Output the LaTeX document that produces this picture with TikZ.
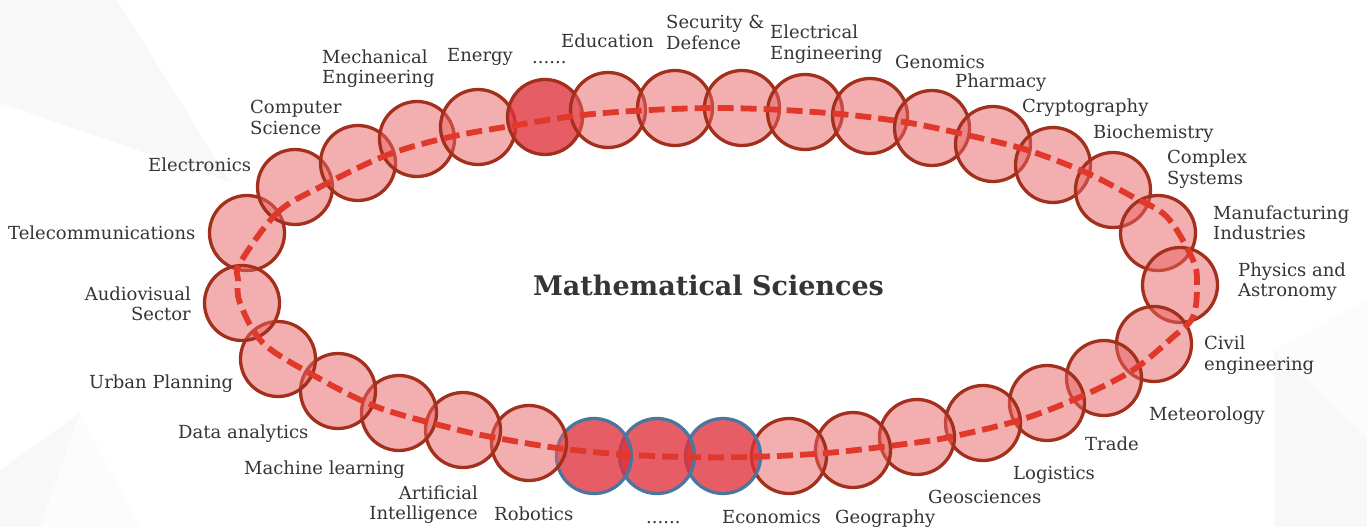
\documentclass[tikz,border=0pt]{standalone}
\usepackage{fontspec}
\setmainfont{DejaVu Serif}
\definecolor{edge}{HTML}{A3301C}
\definecolor{pinkfill}{HTML}{E96161}
\definecolor{darkfill}{HTML}{E0303A}
\definecolor{blueedge}{HTML}{4A76A0}
\definecolor{dashred}{HTML}{E0382A}
\definecolor{txt}{HTML}{353535}
\definecolor{bgshade}{HTML}{F8F8F8}
\definecolor{bgpale}{HTML}{FCFCFC}
\tikzset{
 topic/.style={circle, minimum size=75pt, inner sep=0pt, line width=3.3pt, draw=edge, fill=pinkfill, fill opacity=0.5},
 hot/.style={topic, fill=darkfill, fill opacity=0.78},
 cold/.style={hot, draw=blueedge},
 lbl/.style={text=txt, font=\fontsize{18}{20.5}\selectfont, inner sep=0pt, align=left},
 one/.style={lbl, text height=13pt, text depth=4pt, yshift=-1.5pt},
 lblr/.style={lbl, align=right},
 ring/.style={dashred, line width=5.8pt, dash pattern=on 16pt off 7pt}
}
\begin{document}
\begin{tikzpicture}[x=1pt,y=-1pt]
\useasboundingbox (0,0) rectangle (1367,527);
\fill[white] (0,0) rectangle (1367,527);
% faint background shapes
\fill[bgshade] (0,0) -- (117,0) -- (230,182) -- (0,103) -- cycle;
\fill[bgshade] (80,413) -- (40,527) -- (0,527) -- (0,470) -- cycle;
\fill[bgpale] (80,413) -- (140,527) -- (40,527) -- cycle;
\fill[bgshade] (1274,350) -- (1367,437) -- (1367,527) -- (1274,527) -- cycle;
\fill[bgpale] (1274,350) -- (1367,300) -- (1367,437) -- cycle;
% circles
\node[topic] (c1) at (247,233) {};
\node[topic] (c2) at (295,187) {};
\node[topic] (c3) at (358,163) {};
\node[topic] (c4) at (417,139) {};
\node[topic] (c5) at (478,127) {};
\node[hot]   (c6) at (545,117) {};
\node[topic] (c7) at (608,110) {};
\node[topic] (c8) at (675,108) {};
\node[topic] (c9) at (742,108) {};
\node[topic] (c10) at (805,112) {};
\node[topic] (c11) at (870,116) {};
\node[topic] (c12) at (932,128) {};
\node[topic] (c13) at (993,144) {};
\node[topic] (c14) at (1053,165) {};
\node[topic] (c15) at (1113,190) {};
\node[topic] (c16) at (1158,233) {};
\node[topic] (c17) at (1180,285) {};
\node[topic] (c18) at (1154,344) {};
\node[topic] (c19) at (1104,378) {};
\node[topic] (c20) at (1047,403) {};
\node[topic] (c21) at (983,423) {};
\node[topic] (c22) at (917,437) {};
\node[topic] (c23) at (853,450) {};
\node[topic] (c24) at (789,456) {};
\node[cold]  (c25) at (723,456) {};
\node[cold]  (c26) at (657,456) {};
\node[cold]  (c27) at (594,456) {};
\node[topic] (c28) at (529,443) {};
\node[topic] (c29) at (463,430) {};
\node[topic] (c30) at (399,413) {};
\node[topic] (c31) at (338,391) {};
\node[topic] (c32) at (278,359) {};
\node[topic] (c33) at (242,303) {};
% dashed ring
\draw[ring] plot[smooth cycle, tension=0.55] coordinates {
 (240,263) (277,213) (320,187) (387,155) (450,137) (517,125) (583,115) (650,110)
 (717,108) (783,110) (850,115) (910,123) (967,135) (1027,150) (1087,173) (1133,197)
 (1167,217) (1193,260) (1197,285) (1193,317) (1173,337) (1133,370) (1080,397) (1020,420)
 (950,437) (905,444) (827,453) (750,457) (683,457) (617,454) (557,448) (497,438)
 (455,429) (377,407) (313,375) (263,343) (240,303) (238,280)};
% title
\node[text=txt, font=\bfseries\fontsize{27}{30}\selectfont] (title) at (708.5,285) {Mathematical Sciences};
% labels
\node[one, anchor=west] (l1) at (8,233) {Telecommunications};
\node[one, anchor=west] (l2) at (148,165) {Electronics};
\node[lbl, anchor=west] (l3) at (250,117.5) {Computer\\Science};
\node[lbl, anchor=west] (l4) at (322,68.5) {Mechanical\\Engineering};
\node[one, anchor=west] (l5) at (447,56) {Energy};
\node[one, anchor=west] (l6) at (532,57.5) {......};
\node[one, anchor=west] (l7) at (561,42) {Education};
\node[lbl, anchor=west] (l8) at (666,32.5) {Security \&\\Defence};
\node[lbl, anchor=west] (l9) at (770,44) {Electrical\\Engineering};
\node[one, anchor=west] (l10) at (895,62) {Genomics};
\node[one, anchor=west] (l11) at (955,82) {Pharmacy};
\node[one, anchor=west] (l12) at (1022,106) {Cryptography};
\node[one, anchor=west] (l13) at (1093,132) {Biochemistry};
\node[lbl, anchor=west] (l14) at (1167,169) {Complex\\Systems};
\node[lbl, anchor=west] (l15) at (1213,223) {Manufacturing\\Industries};
\node[lbl, anchor=west] (l16) at (1238,281.5) {Physics and\\Astronomy};
\node[lbl, anchor=west] (l17) at (1204,355) {Civil\\engineering};
\node[one, anchor=west] (l18) at (1149,414) {Meteorology};
\node[one, anchor=west] (l19) at (1085,444) {Trade};
\node[one, anchor=west] (l20) at (1013,473) {Logistics};
\node[one, anchor=west] (l21) at (928,497) {Geosciences};
\node[one, anchor=west] (l22) at (835,517) {Geography};
\node[one, anchor=west] (l23) at (722,517) {Economics};
\node[one, anchor=west] (l24) at (646,517.5) {......};
\node[one, anchor=west] (l25) at (494,514) {Robotics};
\node[lblr, anchor=east] (l26) at (478,504.5) {Artificial\\Intelligence};
\node[one, anchor=west] (l27) at (244,468) {Machine learning};
\node[one, anchor=west] (l28) at (178,432) {Data analytics};
\node[one, anchor=west] (l29) at (89,382) {Urban Planning};
\node[lblr, anchor=east] (l30) at (191,304) {Audiovisual\\Sector};
\end{tikzpicture}
\end{document}
